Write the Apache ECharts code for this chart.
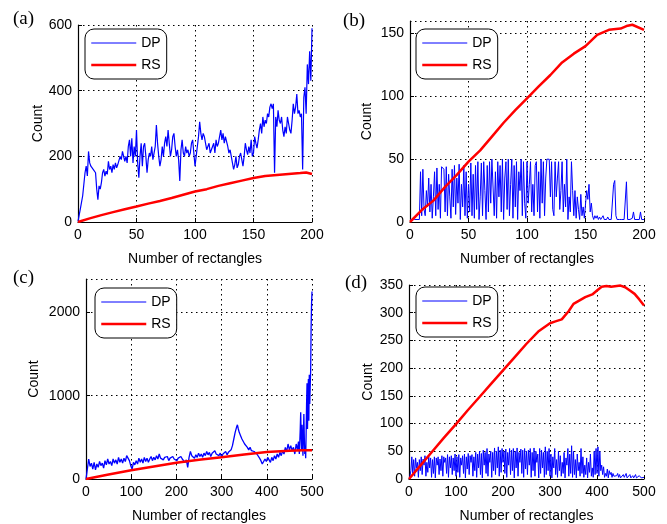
<!DOCTYPE html>
<html><head><meta charset="utf-8">
<script src="https://cdn.jsdelivr.net/npm/echarts@6/dist/echarts.min.js"></script>
<style>html,body{margin:0;padding:0;background:#fff}#c{width:667px;height:524px}</style>
</head><body><div id="c"></div>
<script>
// ---------- Panel (a) ----------
const aDPx = [0,2,4,6,7,8,9,10,11,12,13,14,15,16,17,18,19,20,21,22,23,24,25,26,27,28,29,30,31,32,33,34,35,36,37,38,39,40,41,42,43,44,45,46,47,48,49,50,51,52,53,54,55,56,57,58,59,60,61,62,63,64,65,66,67,68,69,70,71,72,73,74,75,76,77,78,79,80,81,82,83,84,85,86,87,88,89,90,91,92,93,94,95,96,97,98,99,100,101,102,103,104,105,106,107,108,109,110,111,112,113,114,115,116,117,118,119,120,121,122,123,124,125,126,127,128,129,130,131,132,133,134,135,136,137,138,139,140,141,142,143,144,145,146,147,148,149,150,151,152,153,154,155,156,157,158,159,160,161,162,163,164,165,166,167,168,169,170,171,172,173,174,175,176,177,178,179,180,181,182,183,184,185,186,187,188,189,190,191,192,193,194,195,196,197,198,199,200];
const aDPy = [2,40,80,150,170,140,215,180,170,175,160,165,150,100,68,110,100,120,150,160,140,155,145,185,160,170,150,175,160,180,165,175,170,200,190,215,210,185,200,180,230,250,200,255,180,230,200,280,180,135,200,240,170,230,240,200,150,190,210,200,230,190,210,230,295,240,200,170,190,230,200,240,260,230,280,240,200,220,260,270,230,200,220,190,125,220,250,210,200,230,210,220,200,210,240,250,210,170,200,230,260,305,270,250,270,260,240,220,230,240,210,215,230,240,210,250,230,240,260,280,250,270,240,260,245,230,210,220,200,180,160,175,200,165,175,200,210,190,170,200,240,220,205,230,210,250,200,210,260,240,225,250,280,300,270,320,290,310,300,330,320,350,360,345,360,150,320,290,340,310,300,320,280,260,290,270,320,300,280,270,310,360,330,350,390,330,340,320,330,160,380,410,330,480,420,520,430,590];
const aRSx = [0,10,20,30,40,50,60,70,80,90,100,110,120,130,140,150,160,170,180,190,195,200];
const aRSy = [0,11,21,30,39,47,56,64,73,83,93,100,110,118,126,134,140,143,146,149,151,146];

// ---------- Panel (b) ----------
const bStep = 1;
const bDP = [2,2,2,2,2,2,2,2,2,
40,5,42,10,5,25,12,35,8,30,3,20,40,5,43,10,30,3,44,44,42,8,44,5,38,20,3,42,12,45,6,35,15,46,2,30,12,45,5,40,3,
30,8,47,5,38,3,45,10,48,2,20,47,5,48,25,2,45,8,48,15,50,50,5,40,3,48,20,45,8,50,2,35,48,10,50,5,30,50,3,45,12,48,2,40,25,50,5,48,15,3,
48,15,30,48,8,30,5,45,48,8,40,3,50,15,48,5,35,50,50,50,20,48,10,5,48,20,35,48,10,25,48,8,30,12,50,2,20,8,48,25,5,25,3,20,10,2,22,5,12,3,
2,25,18,30,8,15,5,2,5,3,5,2,4,2,3,5,2,3,2,4,2,3,2,3,30,33,5,2,2,2,2,2,2,2,2,32,2,2,2,2,3,8,2,2,2,2,2,8,2,2,2];
const bRSx = [0,10,20,30,40,50,60,70,80,90,100,110,120,130,140,150,160,170,180,185,190,200];
const bRSy = [0,9.5,17,28,37.5,48,57,68,79,89,98.5,108,117,127,134,140,149,153,154,156,157,153];

// ---------- Panel (c) ----------
const cDPx = [0,3,6,9,12,15,18,21,24,27,30,33,36,39,42,45,48,51,54,57,60,63,66,69,72,75,78,81,84,87,90,93,96,99,102,105,108,111,114,117,120,123,126,129,132,135,138,141,144,147,150,153,156,159,162,165,168,171,174,177,180,183,186,189,192,195,198,201,204,207,210,213,216,219,222,225,228,231,234,237,240,243,246,249,252,255,258,261,264,267,270,273,276,279,282,285,288,291,294,297,300,303,306,309,312,315,318,321,324,327,330,333,335,337,339,342,345,348,351,354,357,360,363,366,369,372,375,378,381,384,387,390,393,396,399,402,405,408,411,414,417,420,423,426,429,432,435,438,441,444,447,450,453,456,459,462,465,468,470,472,474,475,476,477,478,479,480,481,482,483,484,485,486,487,488,489,490,491,492,493,494,495,496,497,498,499,500];
const cDPy = [0,120,240,150,190,120,200,110,180,140,210,160,190,130,220,170,240,180,210,160,240,190,230,180,260,200,240,190,250,210,280,300,220,160,120,200,170,220,180,250,200,240,190,260,210,250,200,240,270,220,260,230,280,240,300,250,270,230,260,240,270,220,250,230,270,240,260,220,250,230,270,240,260,200,230,140,260,330,280,300,250,290,260,310,270,300,260,310,280,330,290,320,270,310,290,340,300,320,280,310,260,300,280,330,290,320,300,350,400,480,560,620,650,600,560,520,480,450,420,400,380,350,380,340,360,330,350,300,280,250,220,180,200,240,210,260,230,200,260,220,280,240,300,260,320,280,340,300,380,330,420,350,400,340,380,300,420,350,450,300,600,800,500,350,650,400,280,550,780,500,300,400,250,550,900,1150,600,900,1200,700,1250,900,1100,1300,1800,2100,2250];
const cRSx = [0,50,100,150,200,250,300,350,400,450,480,500];
const cRSy = [0,55,105,150,195,230,260,295,325,340,345,345];

// ---------- Panel (d) ----------
const dStep = 2;
const dDP = [0,5,15,40,10,35,
5,38,20,30,3,35,15,40,8,36,25,42,5,30,12,40,20,38,3,35,
10,40,2,38,25,40,8,36,15,42,5,40,30,38,10,44,3,40,20,42,8,38,15,45,5,
40,12,44,3,38,25,42,10,45,2,40,18,46,8,42,30,44,5,40,15,48,3,45,20,50,
8,46,2,52,25,48,10,55,5,45,30,50,3,48,15,56,8,50,20,58,5,52,12,55,30,
50,10,54,3,48,25,55,8,52,15,55,2,50,20,56,5,48,30,54,10,52,3,55,18,50,
8,52,25,55,3,48,15,56,5,50,30,45,2,55,10,52,20,48,3,58,8,50,15,55,5,
45,2,40,20,55,8,35,3,50,15,42,5,30,10,48,2,38,25,55,5,45,10,60,3,50,
8,35,2,45,15,30,5,55,10,40,3,25,8,38,2,30,12,45,5,20,3,50,8,55,10,
58,5,50,15,25,8,22,3,10,5,18,2,15,8,12,3,10,5,8,2,6,10,3,8,2,
5,2,8,3,4,10,2,5,3,8,2,4,6,2,3,8,2,4,2,6,3,2,5,2,3];
const dRSx = [0,25,50,75,100,125,150,175,200,225,250,275,300,310,325,340,350,375,390,400,410,420,430,450,460,470,480,490,500];
const dRSy = [0,25,50,75,99,124,148,172,196,220,244,266,281,284,288,303,316,328,333,340,347,348,347,349,346,340,334,324,313];

// ---------- Axis settings ----------
const panelLabels = ['(a)','(b)','(c)','(d)'];
const xMax = [200,200,500,500];
const xInt = [50,50,100,100];
const yMax = [600,160,2400,350];
const yInt = [200,50,1000,50];

const zip = (xs, ys) => xs.map((x, i) => [x, ys[i]]);
const uni = (ys, step) => ys.map((y, i) => [i * step, y]);

const FONT = 'Liberation Sans';
const grids = [
  {left:78, top:25, width:234, height:197},
  {left:410, top:21, width:234, height:201},
  {left:86, top:279, width:226, height:203},
  {left:409, top:285, width:235, height:197}
];
const yNameGap = [33, 36, 45, 34];
const legendPos = [
  {left:85, top:29},
  {left:416, top:29},
  {left:95, top:288},
  {left:416, top:287}
];
const labelPos = [
  {left:13, top:10},
  {left:343, top:12},
  {left:13, top:269},
  {left:345, top:274}
];

const dotted = {color:'#000', type:[1.5,3.5], width:1};
const xAxes = [], yAxes = [];
for (let i = 0; i < 4; i++) {
  xAxes.push({
    type:'value', gridIndex:i, min:0, max:xMax[i], interval:xInt[i],
    name:'Number of rectangles', nameLocation:'middle', nameGap:30,
    nameTextStyle:{fontFamily:FONT, fontSize:14, color:'#000'},
    axisLine:{show:true, onZero:false, lineStyle:{color:'#000', width:1.2}},
    axisTick:{show:true, inside:true, length:4, lineStyle:{color:'#000'}},
    axisLabel:{fontFamily:FONT, fontSize:14, color:'#000', margin:6, formatter:v => String(v)},
    splitLine:{show:true, lineStyle:dotted}
  });
  yAxes.push({
    type:'value', gridIndex:i, min:0, max:yMax[i], interval:yInt[i],
    name:'Count', nameLocation:'middle', nameGap:yNameGap[i], nameRotate:90,
    nameTextStyle:{fontFamily:FONT, fontSize:14, color:'#000'},
    axisLine:{show:true, onZero:false, lineStyle:{color:'#000', width:1.2}},
    axisTick:{show:true, inside:true, length:4, lineStyle:{color:'#000'}},
    axisLabel:{fontFamily:FONT, fontSize:14, color:'#000', margin:6, formatter:v => String(v),
               showMaxLabel: (yMax[i] % yInt[i] === 0)},
    splitLine:{show:true, lineStyle:dotted}
  });
}

const dpData = [zip(aDPx, aDPy), uni(bDP, bStep), zip(cDPx, cDPy), uni(dDP, dStep)];
const rsData = [zip(aRSx, aRSy), zip(bRSx, bRSy), zip(cRSx, cRSy), zip(dRSx, dRSy)];
const dpWidth = [1.2, 1, 1.3, 1];

const series = [];
for (let i = 0; i < 4; i++) {
  series.push({
    name:'DP', type:'line', xAxisIndex:i, yAxisIndex:i, data:dpData[i],
    symbol:'none', animation:false, lineStyle:{color:'#0000ff', width:dpWidth[i]}, itemStyle:{color:'#0000ff'}
  });
  series.push({
    name:'RS', type:'line', xAxisIndex:i, yAxisIndex:i, data:rsData[i],
    symbol:'none', animation:false, lineStyle:{color:'#ff0000', width:2.5}, itemStyle:{color:'#ff0000'}
  });
}

const legends = legendPos.map(p => ({
  left:p.left, top:p.top, orient:'vertical',
  data:[{name:'DP', lineStyle:{width:1, color:'#0000ff'}}, {name:'RS', lineStyle:{width:2.5, color:'#ff0000'}}],
  selectedMode:false,
  itemWidth:45, itemHeight:14, itemGap:8, padding:[7,6,7,5],
  borderColor:'#000', borderWidth:1, borderRadius:9, backgroundColor:'#fff',
  itemStyle:{opacity:0},
  textStyle:{fontFamily:FONT, fontSize:14, color:'#000'}
}));

const titles = labelPos.map((p, i) => ({
  text:panelLabels[i], left:p.left, top:p.top, padding:0,
  textStyle:{fontFamily:'Liberation Serif', fontSize:19, fontWeight:'normal', color:'#000'}
}));

const chart = echarts.init(document.getElementById('c'), null, {renderer:'canvas'});
chart.setOption({
  animation:false,
  backgroundColor:'#fff',
  title:titles,
  legend:legends,
  grid:grids,
  xAxis:xAxes,
  yAxis:yAxes,
  series:series
});
</script></body></html>
